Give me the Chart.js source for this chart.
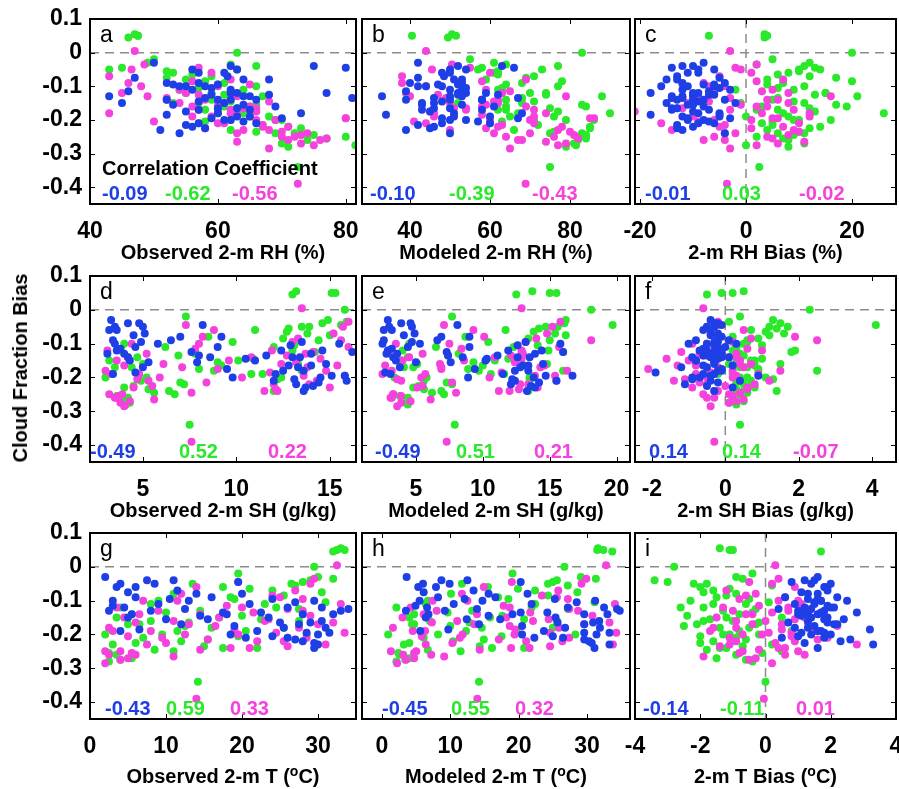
<!DOCTYPE html>
<html>
<head>
<meta charset="utf-8">
<script src="https://cdn.jsdelivr.net/npm/chart.js@4.4.1/dist/chart.umd.min.js"></script>
<style>
  body { margin: 0; width: 899px; height: 789px; position: relative; overflow: hidden; background: #fff;
         font-family: "Liberation Sans", Arial, sans-serif; }
  canvas { position: absolute; }
  .lbl { position: absolute; white-space: nowrap; line-height: 1; font-weight: bold; font-size: 20px; transform: translateY(-50%); }
  .title { transform: translate(-50%, -50%); }
  .letter { font-weight: normal; font-size: 23px; transform: none; }
  .ytitle { transform: translate(-50%, -50%) rotate(-90deg); }
  sup { font-size: 14px; vertical-align: 7px; line-height: 0; }
</style>
</head>
<body>
<script>
const BLUE = "#1f3fe6";
const GREEN = "#2ae82a";
const MAGENTA = "#f542dc";

// cloud fraction bias per site (shared by all nine panels)
const cfBlue = [-0.03,-0.04,-0.04,-0.045,-0.05,-0.05,-0.06,-0.07,-0.075,-0.08,-0.09,-0.09,-0.095,-0.1,-0.1,-0.11,-0.11,-0.12,-0.12,-0.125,-0.13,-0.13,-0.135,-0.14,-0.14,-0.145,-0.15,-0.155,-0.16,-0.165,-0.17,-0.175,-0.18,-0.185,-0.19,-0.195,-0.2,-0.2,-0.21,-0.21,-0.22,-0.225,-0.23,-0.24,-0.125,
  -0.06,-0.08,-0.1,-0.105,-0.115,-0.12,-0.13,-0.135,-0.14,-0.15,-0.155,-0.165,-0.17,-0.18,-0.19,-0.195,-0.205,-0.215,-0.14,-0.095];
const cfGreen = [0.055,0.05,0.045,0,-0.02,-0.035,-0.04,-0.045,-0.05,-0.055,-0.06,-0.07,-0.08,-0.085,-0.09,-0.1,-0.105,-0.11,-0.12,-0.125,-0.13,-0.14,-0.145,-0.15,-0.155,-0.16,-0.165,-0.17,-0.18,-0.18,-0.19,-0.2,-0.205,-0.21,-0.22,-0.23,-0.235,-0.24,-0.245,-0.25,-0.255,-0.27,-0.28,-0.34,-0.275,
  0.05,-0.03,-0.05,-0.065,-0.075,-0.095,-0.11,-0.12,-0.135,-0.15,-0.16,-0.17,-0.175,-0.19,-0.2,-0.215,-0.225,-0.24,-0.26,-0.2];
const cfMagenta = [0.005,-0.045,-0.06,-0.07,-0.08,-0.09,-0.095,-0.1,-0.11,-0.115,-0.12,-0.125,-0.13,-0.135,-0.14,-0.145,-0.15,-0.155,-0.16,-0.165,-0.17,-0.175,-0.18,-0.185,-0.19,-0.195,-0.2,-0.205,-0.21,-0.215,-0.22,-0.225,-0.23,-0.235,-0.24,-0.245,-0.25,-0.255,-0.26,-0.265,-0.275,-0.285,-0.39,-0.035,-0.195,
  -0.05,-0.085,-0.1,-0.12,-0.13,-0.14,-0.15,-0.16,-0.17,-0.18,-0.19,-0.2,-0.21,-0.22,-0.23,-0.24,-0.25,-0.26,-0.27,-0.165];

// relative humidity (%)
const obsRhBlue = [50,62,75,80,56,63,61,61.5,47,68,52,57,60,58,54,62,56,77,63,59,43,65,81,52,62,57,45,64,69,60,65,55,73,52,63,70,62,61,66,57,56,58,51,54,68,
  57,64,55,59,46,62,64,58,66,61,53,63,57,60,65,59,64,55,60,53];
const modRhBlue = [42,52,63,66,50,54,50,48.5,42,53,40,53,52,42,48,50,53,59,54,52,33,53,67,39,58,48,43,53,61,46,58,45,68,34,51,67,54,50,60,48,46,45,39,50,62,
  48,51,44,54,39,52,50,46,58,46,43,50,43,51,60,48,57,42,50,47];
const rhBiasBlue = [-8,-10,-12,-14,-6,-9,-11,-13,-5,-15,-12,-4,-8,-16,-6,-12,-3,-18,-9,-7,-10,-12,-14,-13,-4,-9,-2,-11,-8,-14,-7,-10,-5,-18,-12,-3,-8,-11,-6,-9,-10,-13,-12,-4,-6,
  -9,-13,-11,-5,-7,-10,-14,-12,-8,-15,-10,-13,-14,-9,-5,-11,-7,-13,-10,-6];
const obsRhGreen = [47,47.5,46,63,50,62,66,45,43,52,53,59,55,58,61,66,57,64,55,61,67,59,62,53,66,61,63,58,64,60,65,69,58,57,71,62,66,72,75,80,77,70,71,72.5,81.5,
  47.5,49,63,56,52,60,54,59,62,57,65,60,64,68,62,67,73,69,74,70];
const modRhGreen = [50.5,40.5,49.5,83,55,64,77,58,57,62,61,71,59,78,68,77,63,62,70,74,88,64,71,52,83,64,75,64,90,67,65,79,63,60,85,66,76,83,84,82,84,81,79,75,81.5,
  51.5,61,73,62,69,64,63,74,68,68,84,62,77,76,71,72,85,75,82,86];
const rhBiasGreen = [3.5,-7,3.5,20,5,2,11,13,14,10,8,12,4,20,7,11,6,-2,15,13,21,5,9,-1,17,3,12,6,26,7,0,10,5,3,14,4,10,11,9,2,7,11,8,2.5,0,
  4,12,10,6,17,4,9,15,6,11,19,2,13,8,9,5,12,6,8,16];
const obsRhMagenta = [47,57,59,43,62,46,65,48,54,62,45,57,63,52,58,68,54,60,56,64,62,66,43,63,59,80,66,50,61,67,71,58,64,70,63,73,70,77,71,63,75,68,72.5,48.5,80,
  46.5,56,60,55,49,52,61,65,57,62,56,69,60,67,68,74,72,76,73,66];
const modRhMagenta = [44,55,60,38,69,38,53,44,59,65,39,47,79,49,62,61,62,59,58,51,71,45,46,58,71,86,60,41,71,63,78,59,50,80,61,81,64,82,67,74,77,65,68.9,50.5,85,
  45.5,58,53,63,40,58,50,69,54,74,46,70,44,62,77,70,76,68,79,54];
const rhBiasMagenta = [-3,-2,1,-5,7,-8,-12,-4,5,3,-6,-10,16,-3,4,-7,8,-1,2,-13,9,-21,3,-5,12,6,-6,-9,10,-4,7,1,-14,10,-2,8,-6,5,-4,11,2,-3,-3.6,2,5,
  -1,2,-7,8,-9,6,-11,4,-3,12,-10,1,-16,-5,9,-4,4,-8,6,-12];

// specific humidity (g/kg)
const obsShBlue = [3.3,4.2,4.8,8.2,3.5,5,3.2,5.1,4.5,7,3.4,6.5,13.5,3.5,15.5,4.6,9,3.6,12.4,7.6,3.1,14,8,4.2,13,10.5,11,5.3,14.8,12.8,13.3,9.5,13.6,4.6,12.1,15.8,9.8,14.5,12,15.9,13.2,14.1,13.7,13.6,16.2,
  3.6,9.2,5.8,12.9,3.8,14.6,4,11.6,13.4,4.3,7.9,14,5,12.5,3.4,15.1,13.1,14.4,8.6,4.9];
const modShBlue = [2.9,3.9,4.6,8.1,3,4.7,2.6,4.9,4.1,6.9,2.6,6.6,13.2,2.5,15.8,4.4,9,2.9,11.9,7.3,2.8,13.9,7.4,3.3,12.6,10.3,10.2,5,14.5,13,12.8,9.4,13.4,2.7,11.5,16.7,8.9,13.8,12.4,15.5,12.1,13.6,13.9,13.3,16,
  3.2,9,5.3,12.6,3.2,14.4,3.6,11.1,13.5,3.5,7.6,13.4,3.8,12.4,3.1,14.7,12.2,14.2,8.5,4.7];
const shBiasBlue = [-0.4,-0.3,-0.2,-0.1,-0.5,-0.3,-0.6,-0.2,-0.4,-0.1,-0.8,0.1,-0.3,-1,0.3,-0.2,0,-0.7,-0.5,-0.3,-0.3,-0.1,-0.6,-0.9,-0.4,-0.2,-0.8,-0.3,-0.3,0.2,-0.5,-0.1,-0.2,-1.9,-0.6,0.9,-0.9,-0.7,0.4,-0.4,-1.1,-0.5,0.2,-0.3,-0.2,
  -0.4,-0.2,-0.5,-0.3,-0.6,-0.2,-0.4,-0.5,0.1,-0.8,-0.3,-0.6,-1.2,-0.1,-0.3,-0.4,-0.9,-0.2,-0.1,-0.2];
const obsShGreen = [13.2,15.1,13,15.8,7.3,15.9,14.6,15.6,13.5,12.8,11,13.8,8.5,12.5,14.4,4,13.1,12,3.8,14.2,7.8,4.7,10.9,3.2,9,5,9.2,3.5,13.5,8.8,10.8,3,12.2,4.9,7.2,4,5.3,12,5.6,6.7,3.6,3.9,4.1,7.5,4.3,
  15.3,14.9,13.9,12.7,15,9.8,6.2,13,6.9,10.1,13.3,4.4,8,11.4,5.2,7,4.5,6.4,4.2,12.4];
const modShGreen = [13.7,15,12.5,18.1,7.7,16,16.1,19.7,14.7,14.2,11.7,15.4,8.7,13.4,15,4.5,14.1,12.3,4,16,8.2,4.4,11.9,3.9,9.3,5.1,10,4.1,16,9.7,10.6,3.4,13.5,5.6,7.7,4.8,5.6,13.4,6.2,7.1,3.8,4.4,4.4,7.9,4.4,
  15.5,16.2,15.6,13.8,16.2,10.4,6.5,14.9,7.4,10.9,14.8,4.8,8.9,11.6,5.8,7.3,5.2,6.9,4.4,13.5];
const shBiasGreen = [0.5,-0.1,-0.5,2.3,0.4,0.1,1.5,4.1,1.2,1.4,0.7,1.6,0.2,0.9,0.6,0.5,1,0.3,0.2,1.8,0.4,-0.3,1,0.7,0.3,0.1,0.8,0.6,2.5,0.9,-0.2,0.4,1.3,0.7,0.5,0.8,0.3,1.4,0.6,0.4,0.2,0.5,0.3,0.4,0.1,
  0.2,1.3,1.7,1.1,1.2,0.6,0.3,1.9,0.5,0.8,1.5,0.4,0.9,0.2,0.6,0.3,0.7,0.5,0.2,1.1];
const obsShMagenta = [13.5,7.3,8.8,15.2,8.2,15.6,13,4.4,16,7.8,3.1,14.1,5.2,12.7,10.8,14.5,3.6,13.2,6.1,4,13.8,9,3,11.8,4.8,13.6,5.9,4.7,14.3,8.4,12,5.5,15,12.1,12.2,7.6,3.9,3.7,3.5,5.6,3.8,4,7.6,16,15.8,
  15.7,13.3,8,11.9,13.7,4.2,9.6,12.4,7.1,14.8,3.3,10.3,5.3,13.9,4.5,11.5,3.2,3.6,4.3,15.4];
const modShMagenta = [12.9,7.1,9.3,14.8,10.1,18.1,13.2,3.5,15.7,8.4,3,12.9,5.5,12.1,10.9,12.9,4,12.4,6.8,2.7,14.3,6.9,3.2,11.4,5.7,13.9,5.4,3.6,15.5,7.7,12.8,5.5,14.1,12.7,12,8,3.3,3.9,3.2,6.1,3.9,3.6,7.3,15.8,15.4,
  15.2,14,7.5,12.9,13,4.5,8.6,12.8,6.9,16.3,2.5,10.5,3.9,13.4,5.1,11.2,3.3,3.1,4.6,14.6];
const shBiasMagenta = [-0.6,-0.2,0.5,-0.4,1.9,2.5,0.2,-0.9,-0.3,0.6,-0.1,-1.2,0.3,-0.6,0.1,-1.6,0.4,-0.8,0.7,-1.3,0.5,-2.1,0.2,-0.4,0.9,0.3,-0.5,-1.1,1.2,-0.7,0.8,0,-0.9,0.6,-0.2,0.4,-0.6,0.2,-0.3,0.5,0.1,-0.4,-0.3,-0.2,-0.4,
  -0.5,0.7,-0.5,1,-0.7,0.3,-1,0.4,-0.2,1.5,-0.8,0.2,-1.4,-0.5,0.6,-0.3,0.1,-0.5,0.3,-0.8];

// 2-m temperature (oC)
const obsTBlue = [2,7.5,11,19.5,4,8.5,3.5,11.5,5,14,6,16,24,3,29.5,9,21,4.5,26,12.5,2.5,33,17.5,5.5,28,14.5,23.5,10,30.5,25,27.5,19,31,6.5,22,28.5,18.5,30,26,20.5,28,29.5,30,29.5,34,
  6,20,13,27,3,30.5,8,22.5,32,5,15.5,29,12,25.5,4,31.5,24,27,18,10.5];
const modTBlue = [3.6,8.7,12.5,20.3,6,9.9,5.3,13.4,6.1,15.6,8.2,16.6,25.3,5.5,31.2,10.5,21.9,6.6,27.2,13.9,3.5,34.8,20.3,6.8,29.6,15.6,25.4,12.4,31.8,25.7,29.6,20.5,31.9,9.7,23.7,29.6,20.5,31.4,26.5,22.3,30.3,30.7,33.3,31.1,34.4,
  7.9,21.3,14.7,28.5,4.9,32.5,9.2,24.2,33,6.4,17.3,30.9,14.2,26.8,5.6,33.3,25,29.6,19.1,12.1];
const tBiasBlue = [1.6,1.2,1.5,0.8,2,1.4,1.8,1.9,1.1,1.6,2.2,0.6,1.3,2.5,1.7,1.5,0.9,2.1,1.2,1.4,1,1.8,2.8,1.3,1.6,1.1,1.9,2.4,1.3,0.7,2.1,1.5,0.9,3.2,1.7,1.1,2,1.4,0.5,1.8,2.3,1.2,3.3,1.6,0.4,
  1.9,1.3,1.7,1.5,1.9,2,1.2,1.7,1,1.4,1.8,1.9,2.2,1.3,1.6,1.8,1,2.6,1.1,1.6];
const obsTGreen = [33,32.5,32,29.5,19.5,32,29,28,13.5,27,17.5,24,11,25.5,18.5,9,31,23,4,27.5,14.5,5.5,20,3.5,22.5,8,13,6.5,25.5,16,11.5,2,19.5,7,12,3,15,22,8.5,11,2.5,5.5,2.5,14.2,4,
  33.5,30,26.5,21,30.5,19,8,24.5,10,17,27.5,5,12.5,20.5,9.5,15.5,6,17.5,3.5,28.5];
const modTGreen = [31.6,31.5,33.7,26.7,19.1,31.3,25.6,25,11.7,27.2,15.5,22.4,10.1,24.3,17,6.7,31.1,22.4,2.1,27.2,13.2,4.7,17.6,4,20.8,7,12.8,4.4,25,14.6,12.3,0.9,17.5,6.1,10.4,3.2,14.3,20.8,6.7,11.5,2.4,4,2.1,14.2,3.4,
  32.4,29.1,24.3,19.9,28.6,18.5,6.4,21.9,9.6,15.8,25.6,4.7,10,19.7,8.2,14.9,4,16.1,2.6,28.3];
const tBiasGreen = [-1.4,-1,1.7,-2.8,-0.4,-0.7,-3.4,-3,-1.8,0.2,-2,-1.6,-0.9,-1.2,-1.5,-2.3,0.1,-0.6,-1.9,-0.3,-1.3,-0.8,-2.4,0.5,-1.7,-1,-0.2,-2.1,-0.5,-1.4,0.8,-1.1,-2,-0.9,-1.6,0.2,-0.7,-1.2,-1.8,0.5,-0.1,-1.5,-0.4,0,-0.6,
  -1.1,-0.9,-2.2,-1.1,-1.9,-0.5,-1.6,-2.6,-0.4,-1.2,-1.9,-0.3,-2.5,-0.8,-1.3,-0.6,-2,-1.4,-0.9,-0.2];
const obsTMagenta = [32.5,19.5,14,27,12,25,28,7,33,18,3.5,26,9,21.5,14.5,29,4.5,23.5,11,6,30,16.5,2.5,19,8,24.5,12.5,5,28.5,15.5,22,10,31,26,18.5,14.5,4,5.5,2.5,11,4,2,14,29.5,33.5,
  29,24,11.5,20,28,6.5,17,23,13,27.5,3,19.5,9.5,25.5,7.5,21,2,6,5,32];
const modTMagenta = [32.8,19,14.9,25.8,11.7,25.6,27.2,7.4,34.1,17.8,4.2,27.4,8,21.7,13.9,30.8,3,24.4,11,7.3,29.6,18.7,1.6,19.5,6.3,24.6,11.8,5.8,27.4,17.1,21.1,10.3,33.8,24.6,18.9,14.3,5,4.7,3.1,9.1,3.5,2.2,13.95,29.9,34.3,
  29.2,23.4,12.5,18.7,28.7,6.1,18.2,22.1,13.5,25.9,4.5,19.4,11.4,26.4,6.4,21.6,1.3,7.2,4.7,33.3];
const tBiasMagenta = [0.3,-0.5,0.9,-1.2,-0.3,0.6,-0.8,0.4,1.1,-0.2,0.7,1.4,-1,0.2,-0.6,1.8,-1.5,0.9,0,1.3,-0.4,2.2,-0.9,0.5,-1.7,0.1,-0.7,0.8,-1.1,1.6,-0.9,0.3,2.8,-1.4,0.4,-0.2,1,-0.8,0.6,-1.9,-0.5,0.2,-0.05,0.4,0.8,
  0.2,-0.6,1,-1.3,0.7,-0.4,1.2,-0.9,0.5,-1.6,1.5,-0.1,1.9,0.9,-1.1,0.6,-0.7,1.2,-0.3,1.3];

// correlation coefficients printed in each panel (a..i)
const corrBlue = ["-0.09","-0.10","-0.01","-0.49","-0.49","0.14","-0.43","-0.45","-0.14"];
const corrGreen = ["-0.62","-0.39","0.03","0.52","0.51","0.14","0.59","0.55","-0.11"];
const corrMagenta = ["-0.56","-0.43","-0.02","0.22","0.21","-0.07","0.33","0.32","0.01"];

const letters = ["a","b","c","d","e","f","g","h","i"];
const xTitles = ["Observed 2-m RH (%)","Modeled 2-m RH (%)","2-m RH Bias (%)",
  "Observed 2-m SH (g/kg)","Modeled 2-m SH (g/kg)","2-m SH Bias (g/kg)",
  "Observed 2-m T (<sup>o</sup>C)","Modeled 2-m T (<sup>o</sup>C)","2-m T Bias (<sup>o</sup>C)"];
const xTicks = [[40,60,80],[40,60,80],[-20,0,20],[5,10,15],[5,10,15,20],[-2,0,2,4],[0,10,20,30],[0,10,20,30],[-4,-2,0,2,4]];
const xRanges = [[40,81.6],[28,95],[-20.95,28.3],[2.17,16.4],[0.97,21],[-2.46,4.65],[0,35],[-2.93,36.3],[-4,4]];
const yTicks = [0.1,0,-0.1,-0.2,-0.3,-0.4];
const yRange = [-0.45,0.1];

const panelX = [
  [obsRhBlue, obsRhGreen, obsRhMagenta], [modRhBlue, modRhGreen, modRhMagenta], [rhBiasBlue, rhBiasGreen, rhBiasMagenta],
  [obsShBlue, obsShGreen, obsShMagenta], [modShBlue, modShGreen, modShMagenta], [shBiasBlue, shBiasGreen, shBiasMagenta],
  [obsTBlue, obsTGreen, obsTMagenta], [modTBlue, modTGreen, modTMagenta], [tBiasBlue, tBiasGreen, tBiasMagenta],
];

// page layout (plot boxes in px)
const COLS = [[90,356],[362,630],[635,896]];
const ROWS = [[19,204],[276,462],[533,719]];
const corrLeft = [[102,165,232],[370,449,532],[645,722,799],[90,179,268],[375,456,534],[649,722,793],[105,166,230],[382,451,515],[643,720,796]];
const titleY = [252,510,776];

Chart.defaults.font.family = '"Liberation Sans", Arial, sans-serif';
Chart.defaults.color = "#000";

const panelFrame = {
  id: "panelFrame",
  beforeDatasetsDraw(chart, args, opts) {
    const { ctx, chartArea: a, scales } = chart;
    ctx.save();
    ctx.strokeStyle = "#8c8c8c";
    ctx.lineWidth = 1.5;
    ctx.setLineDash([9, 6]);
    ctx.beginPath();
    const y0 = scales.y.getPixelForValue(0);
    ctx.moveTo(a.left, y0);
    ctx.lineTo(a.right, y0);
    if (opts.vline) {
      const x0 = scales.x.getPixelForValue(0);
      ctx.moveTo(x0, a.top);
      ctx.lineTo(x0, a.bottom);
    }
    ctx.stroke();
    ctx.restore();
  },
  afterDraw(chart) {
    const { ctx, chartArea: a, scales } = chart;
    ctx.save();
    ctx.strokeStyle = "#000";
    ctx.lineWidth = 1;
    ctx.beginPath();
    scales.x.ticks.forEach((t) => {
      const px = Math.round(scales.x.getPixelForValue(t.value)) + 0.5;
      ctx.moveTo(px, a.bottom); ctx.lineTo(px, a.bottom - 5);
      ctx.moveTo(px, a.top); ctx.lineTo(px, a.top + 5);
    });
    scales.y.ticks.forEach((t) => {
      const py = Math.round(scales.y.getPixelForValue(t.value)) + 0.5;
      ctx.moveTo(a.left, py); ctx.lineTo(a.left + 5, py);
      ctx.moveTo(a.right, py); ctx.lineTo(a.right - 5, py);
    });
    ctx.stroke();
    ctx.lineWidth = 2;
    ctx.strokeRect(a.left, a.top, a.right - a.left, a.bottom - a.top);
    ctx.restore();
  },
};

function addText(html, left, top, cls, color) {
  const d = document.createElement("div");
  d.className = "lbl " + (cls || "");
  d.innerHTML = html;
  d.style.left = left + "px";
  d.style.top = top + "px";
  if (color) d.style.color = color;
  document.body.appendChild(d);
}

letters.forEach((letter, k) => {
  const col = k % 3, row = Math.floor(k / 3);
  const [l, r] = COLS[col];
  const [t, b] = ROWS[row];
  const yW = col === 0 ? 90 : 0;
  const padL = col === 0 ? 0 : 20, padR = 20, padT = 15, xH = 44;
  const w = r - l + yW + padL + padR;
  const h = b - t + padT + xH;

  const canvas = document.createElement("canvas");
  canvas.width = w;
  canvas.height = h;
  canvas.style.left = (l - yW - padL) + "px";
  canvas.style.top = (t - padT) + "px";
  canvas.style.width = w + "px";
  canvas.style.height = h + "px";
  document.body.appendChild(canvas);

  const [xb, xg, xm] = panelX[k];
  const pts = (xs, ys) => xs.map((x, i) => ({ x, y: ys[i] }));
  const ds = (data, color) => ({ data, backgroundColor: color, borderWidth: 0, pointRadius: 4, pointHoverRadius: 4 });

  new Chart(canvas, {
    type: "scatter",
    data: {
      datasets: [
        ds(pts(xb, cfBlue), BLUE),
        ds(pts(xm, cfMagenta), MAGENTA),
        ds(pts(xg, cfGreen), GREEN),
      ],
    },
    options: {
      responsive: false,
      animation: false,
      events: [],
      layout: { padding: { left: padL, right: padR, top: padT, bottom: 0 } },
      plugins: { legend: { display: false }, tooltip: { enabled: false }, panelFrame: { vline: col === 2 } },
      scales: {
        x: {
          type: "linear",
          min: xRanges[k][0],
          max: xRanges[k][1],
          grid: { display: false, drawTicks: false },
          border: { display: false },
          afterBuildTicks: (s) => { s.ticks = xTicks[k].map((v) => ({ value: v })); },
          afterFit: (s) => { s.height = xH; s.paddingLeft = 0; s.paddingRight = 0; },
          ticks: { autoSkip: false, maxRotation: 0, padding: 14, font: { size: 23, weight: "bold" }, callback: (v) => String(v) },
        },
        y: {
          type: "linear",
          min: yRange[0],
          max: yRange[1],
          grid: { display: false, drawTicks: false },
          border: { display: false },
          afterBuildTicks: (s) => { s.ticks = yTicks.map((v) => ({ value: v })); },
          afterFit: (s) => { s.width = yW; s.paddingTop = 0; s.paddingBottom = 0; },
          ticks: { display: col === 0, autoSkip: false, crossAlign: "near", padding: 8, font: { size: 23, weight: "bold" }, callback: (v) => String(v) },
        },
      },
    },
    plugins: [panelFrame],
  });

  addText(letter, l + 10, t + 4, "letter");
  addText(xTitles[k], (l + r) / 2, titleY[row], "title");
  const cy = b - 11;
  addText(corrBlue[k], corrLeft[k][0], cy, "", BLUE);
  addText(corrGreen[k], corrLeft[k][1], cy, "", GREEN);
  addText(corrMagenta[k], corrLeft[k][2], cy, "", MAGENTA);
});

addText("Correlation Coefficient", 102, 168);
addText("Cloud Fraction Bias", 20, 368, "ytitle");
</script>
</body>
</html>
